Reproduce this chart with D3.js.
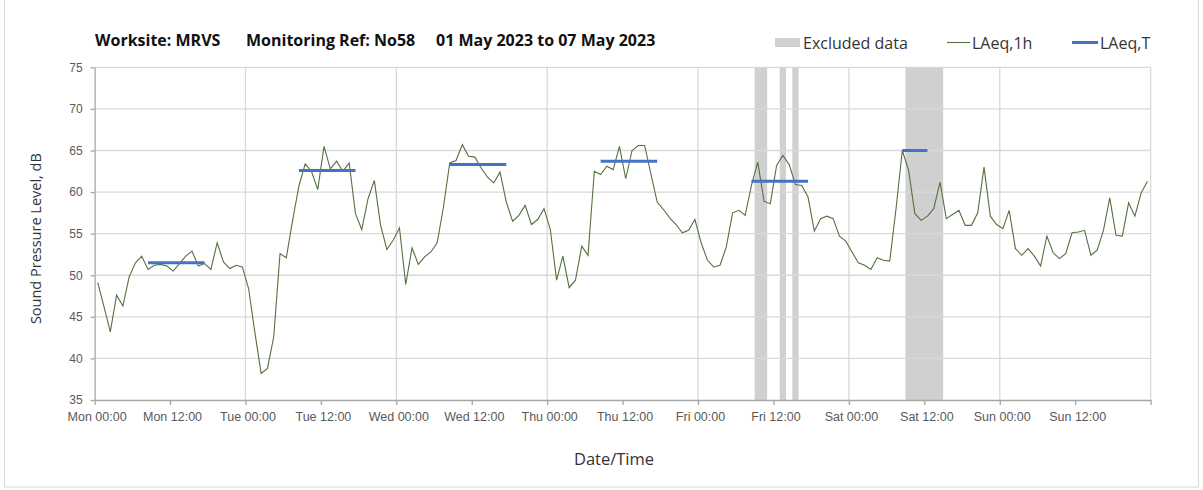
<!DOCTYPE html>
<html>
<head>
<meta charset="utf-8">
<script src="https://cdn.jsdelivr.net/npm/d3@7"></script>
<style>
  body { margin: 0; background: #fff; }
  svg { font-family: "Open Sans", "Noto Sans", sans-serif; }
  .tick text { fill: #595959; }
</style>
</head>
<body>
<svg id="chart" width="1203" height="490"></svg>
<script>
// hourly LAeq,1h values, Mon 00:00 -> Sun 23:00
const laeq1h = [
  49.1, 46.2, 43.2, 47.6, 46.3, 49.8, 51.5, 52.3, 50.7, 51.2, 51.3, 51.1,
  50.5, 51.4, 52.3, 52.9, 51.1, 51.4, 50.7, 53.9, 51.6, 50.8, 51.2, 51.0,
  48.4, 43.1, 38.2, 38.8, 42.6, 52.6, 52.1, 56.6, 60.7, 63.4, 62.5, 60.3,
  65.5, 62.8, 63.7, 62.5, 63.5, 57.4, 55.5, 59.2, 61.4, 56.0, 53.1, 54.2,
  55.7, 48.9, 53.3, 51.3, 52.2, 52.8, 53.9, 58.2, 63.5, 63.8, 65.7, 64.3,
  64.2, 62.9, 61.8, 61.1, 62.4, 58.8, 56.5, 57.2, 58.4, 56.1, 56.7, 58.0,
  55.5, 49.4, 52.3, 48.5, 49.4, 53.5, 52.4, 62.5, 62.1, 63.1, 62.7, 65.5,
  61.6, 65.0, 65.6, 65.6, 62.2, 58.8, 57.9, 56.9, 56.1, 55.1, 55.4, 56.7,
  53.9, 51.8, 51.0, 51.2, 53.4, 57.5, 57.8, 57.2, 60.8, 63.6, 58.9, 58.6,
  63.2, 64.4, 63.3, 60.9, 60.8, 59.4, 55.3, 56.8, 57.1, 56.8, 54.7, 54.1,
  52.8, 51.5, 51.2, 50.7, 52.1, 51.8, 51.7, 58.0, 65.0, 62.6, 57.4, 56.6,
  57.1, 58.0, 61.2, 56.8, 57.3, 57.8, 56.0, 56.0, 57.5, 63.0, 57.1, 56.1,
  55.6, 57.8, 53.2, 52.4, 53.2, 52.3, 51.1, 54.7, 52.7, 52.0, 52.6, 55.1,
  55.2, 55.4, 52.4, 53.0, 55.4, 59.3, 54.8, 54.7, 58.7, 57.1, 59.9, 61.3
];

// LAeq,T daytime periods (hour index of first and last hour)
const periodStart = [8, 32, 56, 80, 104, 128];
const periodEnd   = [17, 41, 65, 89, 113, 132];
const periodLevel = [51.5, 62.6, 63.3, 63.7, 61.3, 65.0];

// hours flagged as excluded
const excludedHours = [105, 106, 109, 111, 129, 130, 131, 132, 133, 134];

const days = ['Mon', 'Tue', 'Wed', 'Thu', 'Fri', 'Sat', 'Sun'];
const yTicks = [35, 40, 45, 50, 55, 60, 65, 70, 75];

const plotL = 94.6, plotR = 1150.6, plotT = 67.3, plotB = 400;

const svg = d3.select('#chart');

// outer frame
svg.append('rect')
  .attr('x', 4.5).attr('y', -1).attr('width', 1194).attr('height', 488)
  .attr('fill', 'none').attr('stroke', '#d9d9d9');

const x = d3.scaleLinear().domain([0, 168]).range([plotL, plotR]);
const y = d3.scaleLinear().domain([35, 75]).range([plotB, plotT]);

/* excluded bands - join consecutive hours so no seams show */
const runs = [];
excludedHours.forEach(h => {
  const last = runs[runs.length - 1];
  if (last && last[1] === h) last[1] = h + 1;
  else runs.push([h, h + 1]);
});
svg.append('g').selectAll('rect')
  .data(runs).enter()
  .append('rect')
  .attr('x', d => x(d[0]))
  .attr('width', d => x(d[1]) - x(d[0]))
  .attr('y', y(75))
  .attr('height', y(35) - y(75))
  .attr('fill', '#d0d0d0');

/* grid */
const grid = svg.append('g');
grid.selectAll('line.h').data(yTicks.slice(1)).enter()
  .append('line')
  .attr('x1', plotL).attr('x2', plotR)
  .attr('y1', d => y(d)).attr('y2', d => y(d))
  .attr('stroke', '#d9d9d9').attr('stroke-width', 1.3);
grid.selectAll('line.v').data([24, 48, 72, 96, 120, 144, 168]).enter()
  .append('line')
  .attr('x1', d => x(d)).attr('x2', d => x(d))
  .attr('y1', plotT).attr('y2', plotB)
  .attr('stroke', '#d9d9d9').attr('stroke-width', 1.3);

/* axes */
const xTicks = d3.range(0, 169, 12);
const xAxis = d3.axisBottom(x)
  .tickValues(xTicks)
  .tickSize(5)
  .tickSizeOuter(0)
  .tickFormat(d => d >= 168 ? '' : `${days[Math.floor(d / 24)]} ${d % 24 === 0 ? '00' : '12'}:00`);
const gx = svg.append('g').attr('transform', `translate(0,${plotB})`).call(xAxis);
gx.selectAll('text').attr('font-size', 12.5).attr('dy', '1.05em').attr('dx', 2);

const yAxis = d3.axisLeft(y).tickValues(yTicks).tickSize(4).tickSizeOuter(0).tickPadding(8);
const gy = svg.append('g').attr('transform', `translate(${plotL},0)`).call(yAxis);
gy.selectAll('text').attr('font-size', 12);

svg.selectAll('.domain, .tick line').attr('stroke', '#a6a6a6').attr('stroke-width', 1.3);

/* LAeq,1h line */
const line = d3.line()
  .x((d, i) => x(i + 0.5))
  .y(d => y(d));
svg.append('path')
  .datum(laeq1h)
  .attr('d', line)
  .attr('fill', 'none')
  .attr('stroke', '#55713f')
  .attr('stroke-width', 1.1);

/* LAeq,T lines */
svg.append('g').selectAll('line')
  .data(periodLevel).enter()
  .append('line')
  .attr('x1', (d, i) => x(periodStart[i] + 0.5))
  .attr('x2', (d, i) => x(periodEnd[i] + 0.5))
  .attr('y1', d => y(d)).attr('y2', d => y(d))
  .attr('stroke', '#4472c4')
  .attr('stroke-width', 3);

/* titles */
const title = svg.append('g').attr('font-weight', 'bold').attr('font-size', 16).attr('fill', '#111');
title.append('text').attr('x', 95).attr('y', 46).text('Worksite: MRVS');
title.append('text').attr('x', 246).attr('y', 46).text('Monitoring Ref: No58');
title.append('text').attr('x', 436).attr('y', 46).text('01 May 2023 to 07 May 2023');

svg.append('text')
  .attr('x', 614).attr('y', 465)
  .attr('text-anchor', 'middle')
  .attr('font-size', 16.5).attr('fill', '#333')
  .text('Date/Time');

svg.append('text')
  .attr('transform', `translate(41,${(plotT + plotB) / 2 + 5}) rotate(-90)`)
  .attr('text-anchor', 'middle')
  .attr('font-size', 14.5).attr('fill', '#333')
  .text('Sound Pressure Level, dB');

/* legend */
const legend = svg.append('g').attr('font-size', 16).attr('fill', '#333');
legend.append('rect').attr('x', 775).attr('y', 38).attr('width', 25).attr('height', 9).attr('fill', '#d0d0d0');
legend.append('text').attr('x', 803).attr('y', 48.5).text('Excluded data');
legend.append('line').attr('x1', 947).attr('x2', 970).attr('y1', 42.5).attr('y2', 42.5)
  .attr('stroke', '#55713f').attr('stroke-width', 1.1);
legend.append('text').attr('x', 972).attr('y', 48.5).text('LAeq,1h');
legend.append('line').attr('x1', 1072).attr('x2', 1098).attr('y1', 42.5).attr('y2', 42.5)
  .attr('stroke', '#4472c4').attr('stroke-width', 3);
legend.append('text').attr('x', 1100).attr('y', 48.5).text('LAeq,T');
</script>
</body>
</html>
